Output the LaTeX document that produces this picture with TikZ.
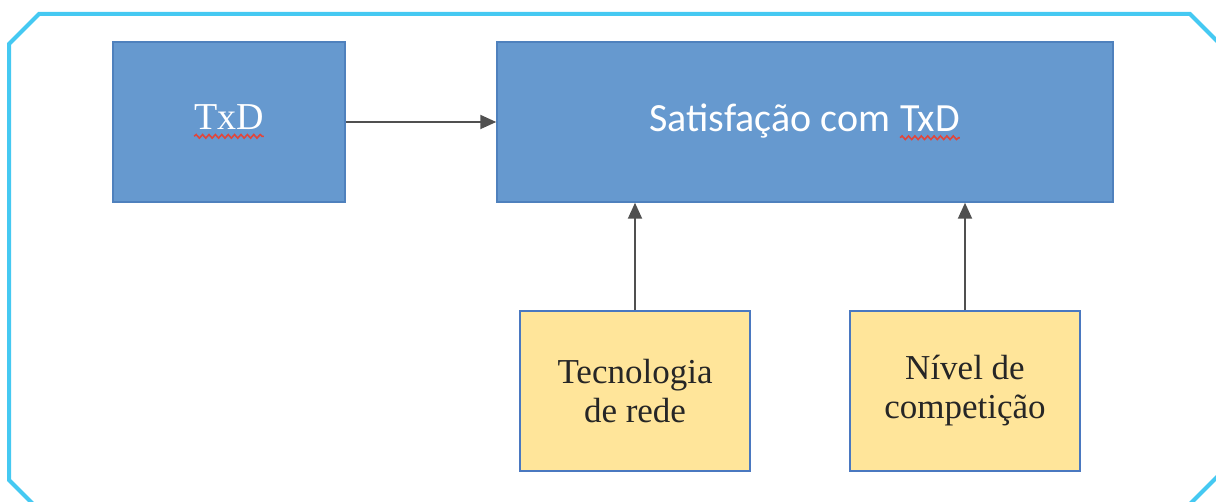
\documentclass[tikz,border=0pt]{standalone}
\usepackage{fontspec}
\setmainfont{Liberation Serif}
\newfontfamily\calibri{Carlito}
\usetikzlibrary{arrows.meta,decorations.pathmorphing}

\definecolor{boxblue}{HTML}{6699CF}
\definecolor{boxedge}{HTML}{4F81BD}
\definecolor{boxyellow}{HTML}{FFE59A}
\definecolor{yellowedge}{HTML}{4A78C0}
\definecolor{framecyan}{HTML}{45C9F2}
\definecolor{arrowgray}{HTML}{505050}
\definecolor{spellred}{HTML}{E0463C}

\tikzset{
  bluebox/.style={draw=boxedge,fill=boxblue,text=white,line width=0.75pt,
                  minimum width=#1,minimum height=80pt,align=center},
  yellowbox/.style={draw=yellowedge,fill=boxyellow,text=black!85,line width=0.75pt,
                  minimum width=115pt,minimum height=80pt,align=center,
                  font=\fontsize{17.5}{19.5}\selectfont},
}

% red wavy underline
\newcommand\redwave[1]{\tikz[baseline=(w.base)]{%
  \node[draw=none,fill=none,inner sep=0pt,outer sep=0pt,minimum width=0pt,minimum height=0pt] (w) {#1};
  \draw[spellred,line width=0.8pt,decorate,decoration={snake,amplitude=0.9pt,segment length=3.2pt}]
    ([yshift=-3.2pt]w.base west) -- ([yshift=-3.2pt]w.base east);}}

\begin{document}
\begin{tikzpicture}[x=0.5pt,y=-0.5pt]

      \useasboundingbox (0,0) rectangle (1216,502);

      % outer frame
      \begin{scope}
        \clip (0,0) rectangle (1216,502);
        \draw[framecyan,line width=2pt,line join=miter]
          (9,44) -- (39,14) -- (1190,14) -- (1240,64) -- (1240,454)
          -- (1174,520) -- (49,520) -- (9,480) -- cycle;
      \end{scope}

      \node[bluebox=116pt,font=\fontsize{19}{22}\selectfont] (txd) at (229,122) {\raisebox{-3pt}{\redwave{TxD}}};
      \node[bluebox=308pt,font=\calibri\fontsize{20}{24}\selectfont] (sat) at (805,122) {Satisfação com \redwave{TxD}};
      \node[yellowbox] (tec) at (635,391) {Tecnologia\\de rede};
      \node[yellowbox] (niv) at (965,391) {Nível de\\competição};

      \begin{scope}[every edge/.style={draw,arrowgray,line width=1pt,-{Triangle[length=8pt,width=7pt]}}]
        \path (txd) edge (sat);
        \path (tec) edge (tec |- sat.south);
        \path (niv) edge (niv |- sat.south);
      \end{scope}

    \end{tikzpicture}
\end{document}
